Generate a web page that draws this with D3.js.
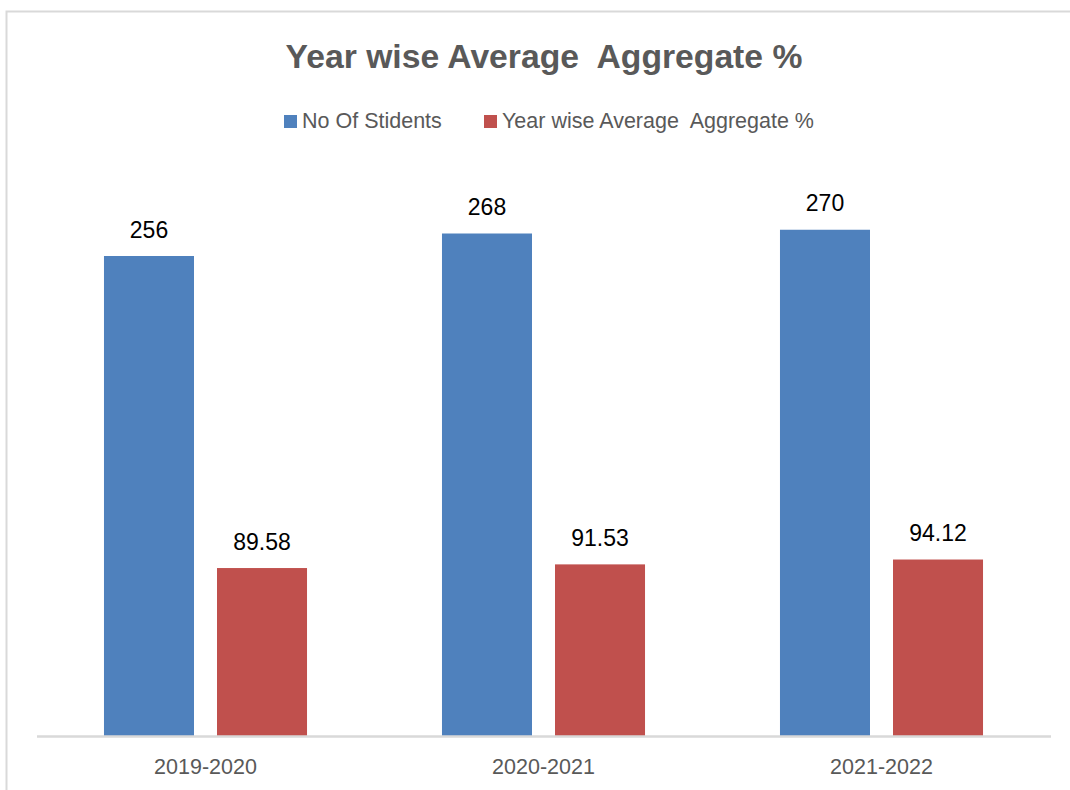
<!DOCTYPE html>
<html>
<head>
<meta charset="utf-8">
<script src="https://cdn.jsdelivr.net/npm/d3@7"></script>
<style>
  html, body { margin: 0; padding: 0; background: #fff; }
  svg { display: block; }
  text { font-family: "Liberation Sans", Arial, sans-serif; white-space: pre; }
</style>
</head>
<body>
<svg id="chart" width="1070" height="790"></svg>
<script>
const categories = ["2019-2020", "2020-2021", "2021-2022"];
const seriesNames = ["No Of Stidents", "Year wise Average  Aggregate %"];
const students = [256, 268, 270];
const aggregate = [89.58, 91.53, 94.12];
const studentLabels = ["256", "268", "270"];
const aggregateLabels = ["89.58", "91.53", "94.12"];
const colors = ["#4f81bd", "#c0504d"];
const titleText = "Year wise Average  Aggregate %";

const svg = d3.select("#chart");

// outer border
svg.append("rect")
  .attr("x", 6.5).attr("y", 11.5)
  .attr("width", 1200).attr("height", 900)
  .attr("fill", "none").attr("stroke", "#d9d9d9").attr("stroke-width", 2);

const x0 = d3.scaleBand().domain(categories).range([36.5, 1050.5]).paddingInner(0).paddingOuter(0);
const x1 = d3.scaleBand().domain(seriesNames).range([0, x0.bandwidth()])
  .paddingInner(23 / 113).paddingOuter(0.597);
const y = d3.scaleLinear().domain([0, 300]).range([736, 173.5]);

const rows = categories.map((c, i) => ({
  cat: c,
  vals: [
    { s: seriesNames[0], v: students[i], label: studentLabels[i], color: colors[0] },
    { s: seriesNames[1], v: aggregate[i], label: aggregateLabels[i], color: colors[1] }
  ]
}));

const g = svg.append("g");
const groups = g.selectAll("g.cat").data(rows).join("g")
  .attr("class", "cat")
  .attr("transform", d => `translate(${x0(d.cat)},0)`);

groups.selectAll("rect").data(d => d.vals).join("rect")
  .attr("x", d => x1(d.s))
  .attr("width", x1.bandwidth())
  .attr("y", d => y(d.v))
  .attr("height", d => y(0) - y(d.v))
  .attr("fill", d => d.color);

groups.selectAll("text.val").data(d => d.vals).join("text")
  .attr("class", "val")
  .attr("x", d => x1(d.s) + x1.bandwidth() / 2)
  .attr("y", d => y(d.v) - 18.5)
  .attr("text-anchor", "middle")
  .attr("font-size", 23)
  .attr("fill", "#000")
  .text(d => d.label);

// baseline axis
const xAxis = d3.axisBottom(x0).tickSize(0).tickPadding(0);
const axG = svg.append("g").attr("transform", `translate(0,${y(0)})`).call(xAxis);
axG.select(".domain").attr("stroke", "#d9d9d9").attr("stroke-width", 2.5);
axG.selectAll(".tick text")
  .attr("y", 38).attr("dy", 0)
  .attr("font-size", 21.5)
  .attr("font-family", "Liberation Sans, Arial, sans-serif")
  .attr("fill", "#595959");

// title
svg.append("text")
  .attr("x", 544).attr("y", 68)
  .attr("text-anchor", "middle")
  .attr("font-size", 33.7)
  .attr("font-weight", "bold")
  .attr("fill", "#595959")
  .text(titleText);

// legend
const legendX = [284, 484];
const lg = svg.append("g");
seriesNames.forEach((s, i) => {
  lg.append("rect").attr("x", legendX[i]).attr("y", 115).attr("width", 13).attr("height", 13).attr("fill", colors[i]);
  lg.append("text").attr("x", legendX[i] + 18).attr("y", 128)
    .attr("font-size", 21.5).attr("fill", "#595959").text(s);
});
</script>
</body>
</html>
